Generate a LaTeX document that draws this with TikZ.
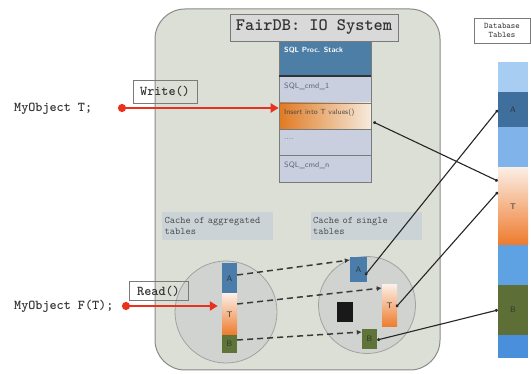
\documentclass[tikz,border=0pt]{standalone}
\usetikzlibrary{arrows.meta}
\definecolor{mainfill}{HTML}{DCDFD5}
\definecolor{mainedge}{HTML}{8A8A8A}
\definecolor{titlefill}{HTML}{D9D9D9}
\definecolor{hdrblue}{HTML}{4D7FA6}
\definecolor{cellfill}{HTML}{C9CFDF}
\definecolor{celledge}{HTML}{7A7A7A}
\definecolor{celltext}{HTML}{5F6478}
\definecolor{insorange}{HTML}{E07A22}
\definecolor{inslight}{HTML}{F6EBDD}
\definecolor{cachefill}{HTML}{CBD3D6}
\definecolor{cachetext}{HTML}{4A4F50}
\definecolor{circfill}{HTML}{D0D3D0}
\definecolor{circedge}{HTML}{A0A3A0}
\definecolor{ablue}{HTML}{4A7DAA}
\definecolor{tlight}{HTML}{FBEEE4}
\definecolor{torange}{HTML}{EE7A2C}
\definecolor{bolive}{HTML}{5E7438}
\definecolor{dbA}{HTML}{3F6F9C}
\definecolor{db0}{HTML}{A8CDF2}
\definecolor{db1}{HTML}{80B3EA}
\definecolor{db2}{HTML}{5FA2E3}
\definecolor{db3}{HTML}{4A8FDC}
\definecolor{dbB}{HTML}{5D6F36}
\definecolor{redarrow}{HTML}{E8321E}
\definecolor{dashgray}{HTML}{3A3A3A}
\begin{document}
\begin{tikzpicture}[x=1pt,y=-1pt,
  mainbox/.style={draw=mainedge,line width=1pt,fill=mainfill,rounded corners=30pt,inner sep=0pt},
  titlebox/.style={draw=celledge,line width=0.8pt,fill=titlefill,inner sep=0pt,font=\ttfamily\bfseries\fontsize{17.5}{19}\selectfont,text=black!80},
  cellbox/.style={draw=celledge,line width=0.6pt,fill=cellfill,minimum width=92,inner sep=0pt},
  celllabel/.style={anchor=west,inner sep=0pt,font=\sffamily\fontsize{7.8}{8}\selectfont,text=celltext},
  callbox/.style={draw=celledge,line width=0.8pt,inner sep=0pt,font=\ttfamily\bfseries\fontsize{13.5}{15}\selectfont,text=black!80},
  objtext/.style={anchor=west,inner sep=0pt,font=\ttfamily\bfseries\fontsize{13.5}{15}\selectfont,text=black!80},
  cachebox/.style={fill=cachefill,inner sep=0pt,minimum width=111,minimum height=28,align=left,text width=106,font=\ttfamily\fontsize{10}{11}\selectfont,text=cachetext},
  circ/.style={circle,draw=circedge,line width=0.8pt,fill=circfill,inner sep=0pt},
  seg/.style={draw=none,inner sep=0pt,font=\sffamily\fontsize{8}{9}\selectfont,text=black!80},
  redarr/.style={draw=redarrow,line width=2.6pt,{Circle[length=8pt]}-{Triangle[length=8pt,width=9pt]}},
  dasharr/.style={draw=dashgray,line width=1.5pt,dash pattern=on 6pt off 4pt,-{Latex[length=5pt,width=5pt]}},
  link/.style={draw=black!85,line width=1.1pt,{Circle[length=3pt]}-{Circle[length=3pt]}}
]
\useasboundingbox (0,0) rectangle (531,374);
\fill[white] (0,0) rectangle (531,374);

% main system box
\node[mainbox,minimum width=285,minimum height=361] (main) at (297.5,189.5) {};
\node[titlebox,minimum width=168,minimum height=27] (title) at (314,27.5) {FairDB: IO System};

% SQL stack
\node[cellbox,fill=hdrblue,minimum height=35] (hdr) at (325,58.5) {};
\node[cellbox,minimum height=27] (c1) at (325,89.5) {};
\node[cellbox,left color=insorange,right color=inslight,minimum height=26] (ins) at (325,116) {};
\node[cellbox,minimum height=26] (cdots) at (325,142) {};
\node[cellbox,minimum height=27] (cn) at (325,168.5) {};
\draw[black!80,line width=1.6pt] (hdr.south west) -- (hdr.south east);
\node[celllabel,text=white,font=\sffamily\bfseries\fontsize{7.5}{8}\selectfont] (hdrt) at (284,50) {SQL Proc. Stack};
\node[celllabel] (c1t) at (284,86) {SQL\_cmd\_1};
\node[celllabel,text=black!70,font=\sffamily\fontsize{7.4}{8}\selectfont] (inst) at (284,113) {Insert into T values()};
\node[celllabel] (cdotst) at (284,139) {....};
\node[celllabel] (cnt) at (284,165) {SQL\_cmd\_n};

% write call
\node[callbox,minimum width=64,minimum height=23] (write) at (165,91.5) {Write()};
\node[objtext] (objT) at (14,109) {MyObject T;};
\coordinate (wdot) at (118,108);
\draw[redarr] (wdot) -- (wdot -| ins.west);

% caches
\node[cachebox] (aggcache) at (217.5,226) {Cache of aggregated\\tables};
\node[cachebox] (singcache) at (366,226) {Cache of single\\tables};
\node[circ,minimum size=102] (lcirc) at (226,312) {};
\node[circ,minimum size=97] (rcirc) at (367,305) {};

% aggregated table
\node[seg,fill=ablue,minimum width=15,minimum height=31] (lA) at (229.5,278.5) {A};
\node[seg,top color=tlight,bottom color=torange,minimum width=15,minimum height=41] (lT) at (229.5,314.5) {T};
\node[seg,fill=bolive,minimum width=15,minimum height=18] (lB) at (229.5,344) {B};

% single tables
\node[seg,fill=ablue,minimum width=17,minimum height=25] (rA) at (358.5,269.5) {A};
\node[seg,top color=tlight,bottom color=torange,minimum width=15,minimum height=42] (rT) at (389.5,306) {T};
\node[seg,fill=black!90,minimum width=16,minimum height=20] (blk) at (345,312) {};
\node[seg,fill=bolive,minimum width=15,minimum height=20] (rB) at (369.5,339) {B};

% read call
\node[callbox,minimum width=59,minimum height=19] (read) at (158.5,291) {Read()};
\node[objtext] (objF) at (14,306) {MyObject F(T);};
\coordinate (rdot) at (122,306);
\draw[redarr] (rdot) -- ([xshift=-4pt]rdot -| lT.west);

% dashed copies
\draw[dasharr] ([yshift=3.5pt]lA.east) -- ([yshift=9.5pt]rA.west);
\draw[dasharr] ([yshift=10.5pt]lT.east) -- ([yshift=18pt]rT.west);
\draw[dasharr] ([yshift=4pt]lB.east) -- ([yshift=7pt]rB.west);

% database tables
\node[draw=celledge,line width=0.6pt,fill=white,minimum width=56,minimum height=25,align=center,inner sep=0pt,font=\ttfamily\fontsize{8.5}{9.5}\selectfont,text=black!80] (dbtitle) at (502,30.5) {Database\\Tables};
\node[seg,fill=db0,minimum width=30,minimum height=30] (d0) at (513,77) {};
\node[seg,fill=dbA,minimum width=30,minimum height=35] (dA) at (513,109.5) {A};
\node[seg,fill=db1,minimum width=30,minimum height=41] (d1) at (513,147.5) {};
\node[seg,top color=tlight,bottom color=torange,minimum width=30,minimum height=77] (dT) at (513,206.5) {T};
\node[seg,fill=db2,minimum width=30,minimum height=40] (d2) at (513,265) {};
\node[seg,fill=dbB,minimum width=30,minimum height=50] (dB) at (513,310) {B};
\node[seg,fill=db3,minimum width=30,minimum height=23] (d3) at (513,346.5) {};

% links to database
\draw[link] ([xshift=2pt,yshift=-6pt]ins.east) -- ([yshift=25.5pt]dT.west);
\draw[link] ([xshift=-2pt,yshift=-5.5pt]rA.east) -- ([yshift=-0.5pt]dA.west);
\draw[link] ([xshift=-1pt,yshift=-1pt]rT.east) -- ([yshift=14.5pt]dT.west);
\draw[link] ([yshift=-1pt]rB.east) -- (dB.west);
\end{tikzpicture}
\end{document}
